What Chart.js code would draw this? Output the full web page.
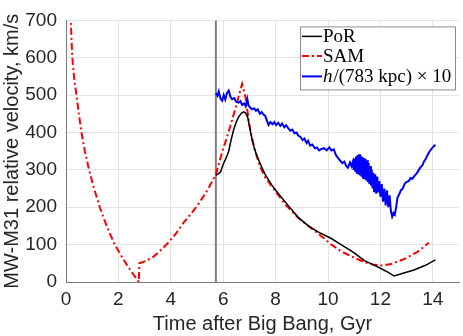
<!DOCTYPE html>
<html>
<head>
<meta charset="utf-8">
<script src="https://cdn.jsdelivr.net/npm/chart.js@4.4.0/dist/chart.umd.min.js"></script>
<style>
  html, body { margin: 0; padding: 0; background: #fff; }
</style>
</head>
<body>
<canvas id="chart" width="463" height="336"></canvas>
<script>
// ---- data ----
const xTicks = [0, 2, 4, 6, 8, 10, 12, 14];
const yTicks = [0, 100, 200, 300, 400, 500, 600, 700];
const vlineT = 5.72;

const porT = [5.72, 5.82, 5.9, 6.0, 6.1, 6.21, 6.3, 6.4, 6.5, 6.59, 6.7, 6.78, 6.86, 6.94, 7.02, 7.1, 7.2, 7.28,
  7.45, 7.6, 7.85, 8.1, 8.5, 8.86, 9.25, 9.62, 10.11, 10.5, 11.0, 11.39, 11.7, 12.02, 12.3, 12.52, 12.8, 13.28, 13.7, 14.1];
const porV = [285, 290, 295, 315, 330, 350, 380, 408, 428, 442, 452, 455, 452, 440, 410, 382, 355, 339,
  310, 288, 260, 237, 203, 173, 150, 134, 117, 100, 78, 57, 47, 36, 26, 16, 22, 32, 44, 59];

const samT = [0.17, 0.24, 0.32, 0.40, 0.50, 0.59, 0.72, 0.88, 1.05, 1.29, 1.55, 1.86, 2.15, 2.45, 2.78,
  2.80, 3.0, 3.31, 3.6, 3.94, 4.2, 4.5, 4.8, 5.08, 5.4, 5.72, 5.95, 6.2, 6.45, 6.6, 6.72,
  6.85, 7.0, 7.1, 7.22, 7.4, 7.6, 7.97, 8.4, 8.86, 9.25, 9.62, 10.13, 10.5, 11.0, 11.39, 11.7, 12.02,
  12.4, 12.9, 13.4, 13.85];
const samV = [720, 600, 540, 500, 445, 400, 350, 300, 255, 200, 150, 100, 65, 32, 0,
  50, 55, 66, 84, 108, 130, 160, 185, 211, 246, 288, 345, 400, 460, 500, 530,
  495, 420, 385, 350, 310, 280, 245, 205, 172, 150, 130, 100, 82, 65, 53, 47, 44,
  48, 61, 80, 105];

const hT = [5.72, 5.78, 5.83, 5.9, 5.96, 6.02, 6.08, 6.14, 6.21, 6.28, 6.34, 6.42, 6.5, 6.59, 6.66, 6.72, 6.8,
  6.86, 6.92, 6.97, 7.04, 7.1, 7.18, 7.25, 7.32, 7.4, 7.47, 7.55, 7.6, 7.68, 7.73, 7.8, 7.88, 7.95, 8.02,
  8.1, 8.18, 8.25, 8.33, 8.4, 8.48, 8.56, 8.64, 8.72, 8.8, 8.86, 8.95, 9.03, 9.1, 9.18, 9.24, 9.32, 9.4,
  9.5, 9.58, 9.66, 9.75, 9.85, 9.95, 10.05, 10.13, 10.22, 10.3, 10.38, 10.46, 10.55, 10.62, 10.7, 10.76,
  10.84, 10.9, 10.95, 10.98, 11.01, 11.04, 11.07, 11.10, 11.13, 11.16, 11.19, 11.22, 11.25, 11.28, 11.31,
  11.34, 11.37, 11.40, 11.43, 11.46, 11.49, 11.52, 11.55, 11.58, 11.61, 11.64, 11.67, 11.70, 11.73, 11.76,
  11.80, 11.84, 11.88, 11.92, 11.96, 12.00, 12.05, 12.10, 12.15, 12.20, 12.25, 12.30, 12.35, 12.40, 12.45,
  12.50, 12.55, 12.60, 12.65, 12.70, 12.78, 12.85, 12.92, 13.0, 13.08, 13.15, 13.22, 13.3, 13.38,
  13.45, 13.52, 13.6, 13.66, 13.72, 13.8, 13.88, 13.95, 14.02, 14.1];
const hV = [505, 498, 510, 490, 485, 500, 488, 505, 512, 495, 489, 492, 482, 480, 484, 474, 478,
  470, 490, 472, 466, 462, 465, 458, 462, 450, 455, 447, 445, 430, 420, 428, 422, 428, 420,
  426, 418, 424, 414, 420, 412, 405, 408, 398, 400, 392, 388, 380, 384, 372, 378, 365, 368,
  358, 360, 352, 356, 358, 352, 360, 352, 355, 340, 332, 325, 318, 322, 310, 306,
  320, 310, 322, 300, 330, 295, 336, 290, 340, 288, 342, 285, 338, 282, 335,
  278, 332, 275, 330, 272, 326, 268, 318, 262, 310, 258, 300, 250, 292, 240,
  288, 236, 282, 240, 270, 228, 262, 215, 250, 205, 245, 200, 232, 190, 175,
  185, 180, 200, 225, 232, 245, 250, 262, 268, 270, 278, 276, 284, 290,
  298, 306, 312, 322, 328, 340, 350, 356, 362, 367];

const seriesNames = ['PoR', 'SAM', 'h/(783 kpc) × 10'];
const seriesColors = ['#000000', '#ff0000', '#0000ff'];

const toPoints = (ts, vs) => ts.map((t, i) => ({ x: t, y: vs[i] }));
const samDash = [7, 3, 2, 3];

// legend drawn by hand (boxed, serif, italic h)
const boxLegend = {
    id: 'boxLegend',
    afterDraw(chart) {
        const ctx = chart.ctx;
        const area = chart.chartArea;
        const w = 155, h = 63;
        const x0 = area.right - w - 4, y0 = area.top + 6;
        ctx.save();
        ctx.fillStyle = '#fff';
        ctx.fillRect(x0, y0, w, h);
        ctx.strokeStyle = '#8c8c8c';
        ctx.lineWidth = 1;
        ctx.strokeRect(x0 + 0.5, y0 + 0.5, w, h);

        const rows = [y0 + 10, y0 + 29.5, y0 + 50];
        const dashes = [[], samDash, []];
        const widths = [1.5, 2, 2];
        rows.forEach((ry, i) => {
            ctx.beginPath();
            ctx.setLineDash(dashes[i]);
            ctx.strokeStyle = seriesColors[i];
            ctx.lineWidth = widths[i];
            ctx.moveTo(x0 + 2, ry);
            ctx.lineTo(x0 + 22, ry);
            ctx.stroke();
        });
        ctx.setLineDash([]);
        ctx.fillStyle = '#000';
        ctx.textBaseline = 'middle';
        ctx.font = '19px "Liberation Serif"';
        ctx.fillText(seriesNames[0], x0 + 23, rows[0] + 1);
        ctx.fillText(seriesNames[1], x0 + 23, rows[1] + 1);
        // italic h, then the rest
        ctx.font = 'italic 19px "Liberation Serif"';
        ctx.fillText(seriesNames[2][0], x0 + 23, rows[2] + 1);
        const hw = ctx.measureText(seriesNames[2][0]).width;
        ctx.font = '19px "Liberation Serif"';
        ctx.fillText(seriesNames[2].slice(1), x0 + 23 + hw + 1, rows[2] + 1);
        ctx.restore();
    }
};

const gridColor = '#e3e3e3';
const axisColor = '#7a7a7a';
const textColor = '#262626';

new Chart(document.getElementById('chart'), {
    type: 'scatter',
    data: {
        datasets: [
            {
                label: 'vline',
                data: [{ x: vlineT, y: 0 }, { x: vlineT, y: 700 }],
                showLine: true, borderColor: '#808080', borderWidth: 2,
                pointRadius: 0, order: 4
            },
            {
                label: seriesNames[1],
                data: toPoints(samT, samV),
                showLine: true, borderColor: seriesColors[1], borderWidth: 2,
                borderDash: samDash, pointRadius: 0, order: 3
            },
            {
                label: seriesNames[0],
                data: toPoints(porT, porV),
                showLine: true, borderColor: seriesColors[0], borderWidth: 1.5,
                pointRadius: 0, order: 2
            },
            {
                label: seriesNames[2],
                data: toPoints(hT, hV),
                showLine: true, borderColor: seriesColors[2], borderWidth: 2,
                pointRadius: 0, order: 1
            }
        ]
    },
    options: {
        responsive: false,
        animation: false,
        devicePixelRatio: 1,
        layout: { padding: { top: 9, right: 4, left: 0, bottom: 0 } },
        plugins: { legend: { display: false }, tooltip: { enabled: false } },
        scales: {
            x: {
                type: 'linear', min: 0, max: 15,
                afterBuildTicks: s => { s.ticks = xTicks.map(v => ({ value: v })); },
                afterFit: s => { s.height = 54; },
                grid: { color: gridColor, drawTicks: false },
                border: { color: axisColor, width: 1 },
                ticks: { color: textColor, padding: 6, font: { family: '"Liberation Sans", Arial', size: 19 } },
                title: {
                    display: true, text: 'Time after Big Bang, Gyr', color: textColor,
                    padding: { top: 0, bottom: 0 },
                    font: { family: '"Liberation Sans", Arial', size: 20 }
                }
            },
            y: {
                type: 'linear', min: 0, max: 700,
                afterBuildTicks: s => { s.ticks = yTicks.map(v => ({ value: v })); },
                afterFit: s => { s.width = 66; },
                grid: { color: gridColor, drawTicks: false },
                border: { color: axisColor, width: 1 },
                ticks: { color: textColor, padding: 9, font: { family: '"Liberation Sans", Arial', size: 19 } },
                title: {
                    display: true, text: 'MW-M31 relative velocity, km/s', color: textColor,
                    padding: { top: 0, bottom: 0 },
                    font: { family: '"Liberation Sans", Arial', size: 20 }
                }
            }
        }
    },
    plugins: [boxLegend]
});
</script>
</body>
</html>
